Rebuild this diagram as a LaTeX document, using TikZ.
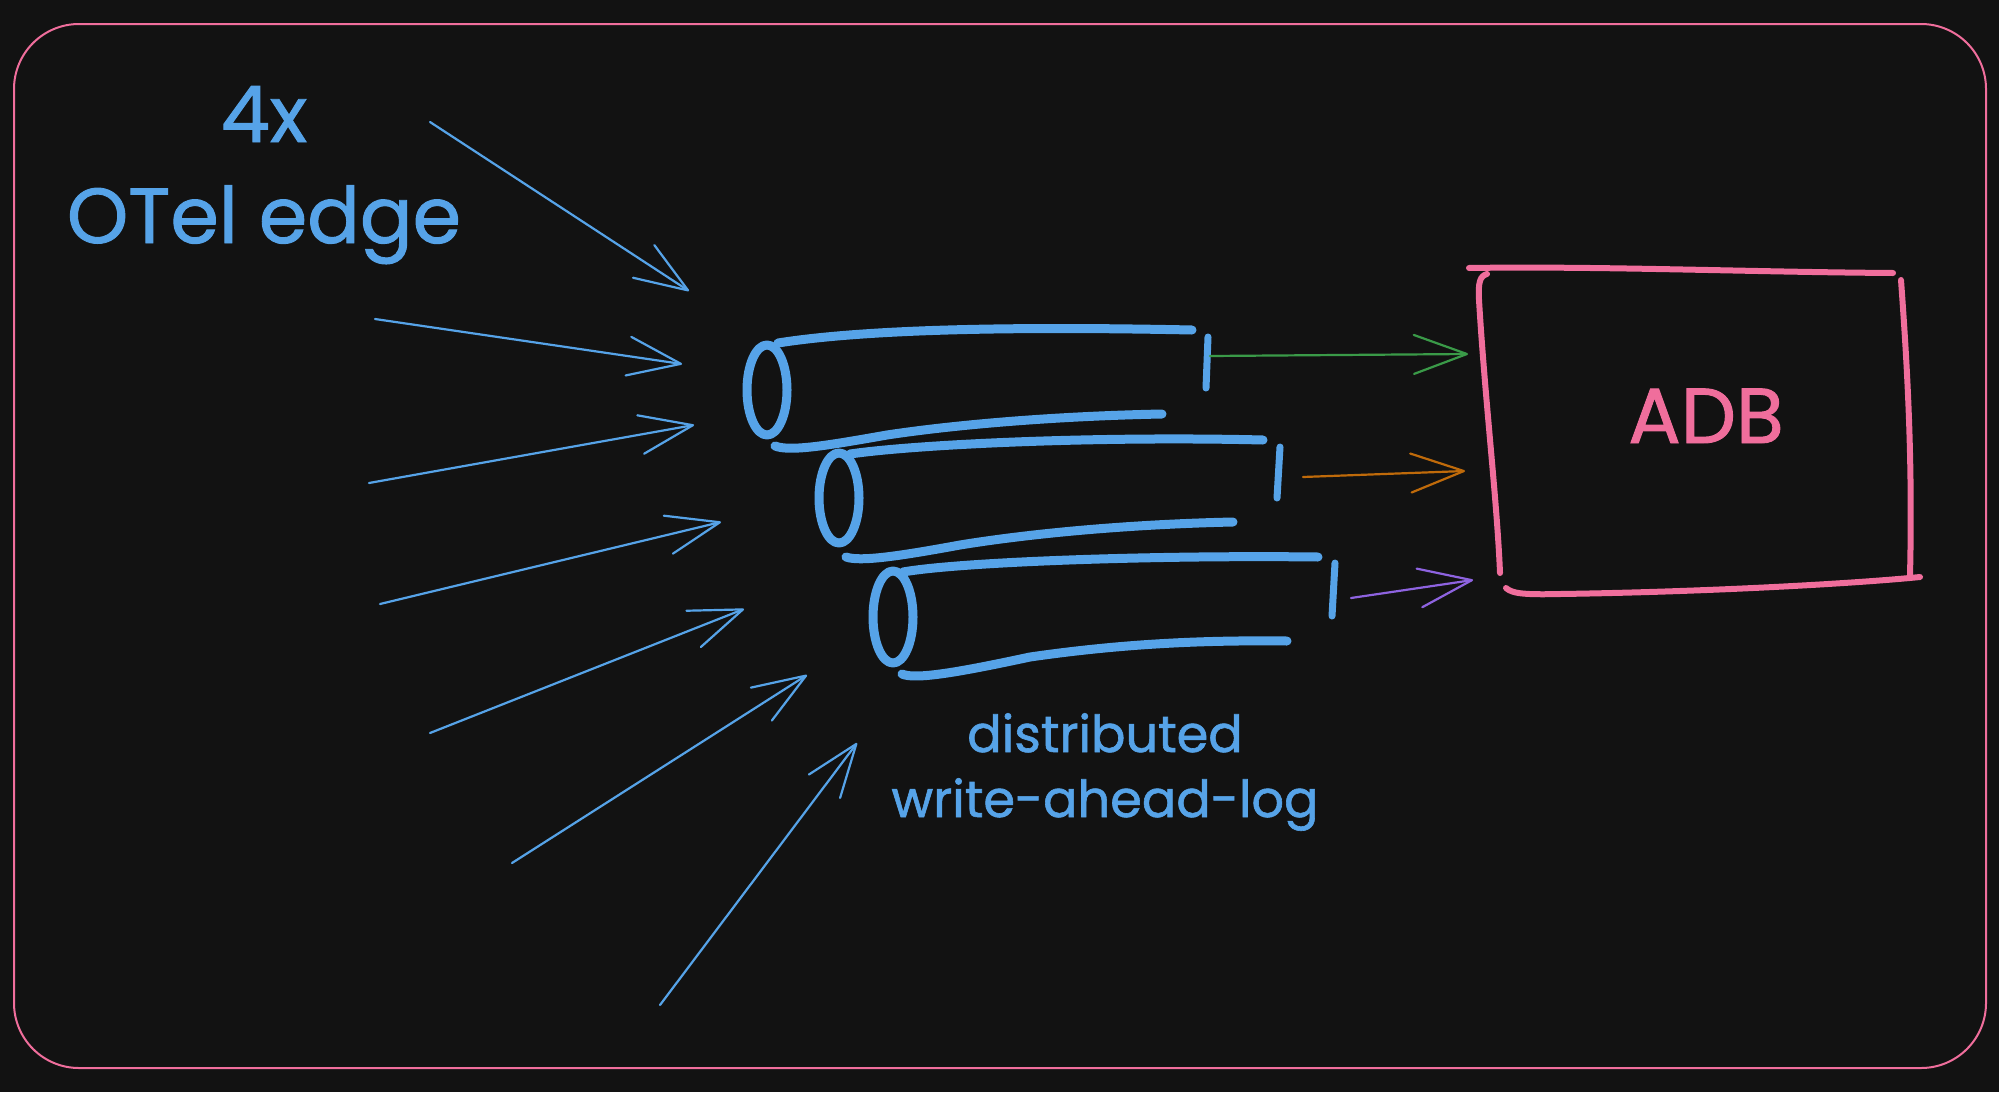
\documentclass[tikz,border=0pt]{standalone}
\usepackage{fontspec}
\setmainfont{Poppins}[FakeBold=1.2]
\usetikzlibrary{arrows.meta}
\definecolor{bgc}{HTML}{121212}
\definecolor{skyblue}{HTML}{56A3E8}
\definecolor{pinkc}{HTML}{F06E9C}
\definecolor{greenc}{HTML}{3A9A48}
\definecolor{orangec}{HTML}{BF6A0A}
\definecolor{purplec}{HTML}{8E63E0}
\begin{document}
\begin{tikzpicture}[x=1pt,y=-1pt,
  thinarrow/.style={line width=2.2pt, line cap=round, -{Straight Barb[length=53pt,width=39pt,round]}},
  tube/.style={draw=skyblue, line width=9pt, line cap=round, line join=round},
  endmark/.style={draw=skyblue, line width=7pt, line cap=round},
  boxline/.style={draw=pinkc, line width=6pt, line cap=round, line join=round},
  lbl/.style={inner sep=0pt, text=#1, align=center, anchor=base}
]
% background and bounding box
\fill[bgc] (0,0) rectangle (1999,1092);
\useasboundingbox (0,0) rectangle (1999,1092);
% outer frame
\draw[pinkc, line width=2pt, rounded corners=65pt] (14,24) rectangle (1986,1068);

% texts (anchor base = baseline of the last line)
\node[lbl=skyblue, font=\fontsize{78}{101}\selectfont] (src) at (264,243) {4x\\OTel edge};
\node[lbl=skyblue, font=\fontsize{51}{65}\selectfont] (wal) at (1105,817) {distributed\\write-ahead-log};
\node[lbl=pinkc, font=\fontsize{78}{90}\selectfont] (adb) at (1706,443) {ADB};

% incoming arrow end points
\coordinate (s1) at (430,122);  \coordinate (t1) at (689,291);
\coordinate (s2) at (375,319);  \coordinate (t2) at (682,364);
\coordinate (s3) at (369,483);  \coordinate (t3) at (694,425);
\coordinate (s4) at (380,604);  \coordinate (t4) at (721,522);
\coordinate (s5) at (430,733);  \coordinate (t5) at (744,609);
\coordinate (s6) at (512,863);  \coordinate (t6) at (807,675);
\coordinate (s7) at (660,1005); \coordinate (t7) at (857,743);
\foreach \i in {1,...,7} \draw[thinarrow, skyblue] (s\i) -- (t\i);

% cylinder 1
\draw[tube] (767,390) ellipse [x radius=20, y radius=45];
\draw[tube] (778,343) .. controls (860,330) and (1000,326) .. (1192,330);
\draw[tube] (775,446) .. controls (790,452) and (830,445) .. (887,435)
            .. controls (960,424) and (1060,416) .. (1162,414);
\draw[endmark] (1208,337) -- (1206,388);
% cylinder 2
\draw[tube] (839,498) ellipse [x radius=20, y radius=45];
\draw[tube] (850,454) .. controls (920,444) and (1100,436) .. (1263,440);
\draw[tube] (846,557) .. controls (860,562) and (900,556) .. (960,545)
            .. controls (1040,532) and (1140,524) .. (1233,522);
\draw[endmark] (1280,447) -- (1277,498);
% cylinder 3
\draw[tube] (893,617) ellipse [x radius=20, y radius=46];
\draw[tube] (903,572) .. controls (960,562) and (1150,555) .. (1318,557);
\draw[tube] (902,674) .. controls (915,680) and (960,672) .. (1030,657)
            .. controls (1120,644) and (1200,640) .. (1287,641);
\draw[endmark] (1335,563) -- (1332,616);

% ADB box (hand drawn strokes)
\draw[boxline] (1469,268) .. controls (1600,266) and (1750,272) .. (1893,273);
\draw[boxline] (1487,274) .. controls (1480,276) and (1478,282) .. (1479,300)
            .. controls (1485,400) and (1497,500) .. (1500,573);
\draw[boxline] (1901,280) .. controls (1906,350) and (1913,450) .. (1910,575);
\draw[boxline] (1506,588) .. controls (1512,593) and (1520,595) .. (1560,594)
            .. controls (1700,592) and (1850,584) .. (1920,577);

% outgoing coloured arrows
\coordinate (m1) at (1210,356); \coordinate (in1) at (1468,354);
\coordinate (m2) at (1303,477); \coordinate (in2) at (1465,471);
\coordinate (m3) at (1351,598); \coordinate (in3) at (1473,580);
\draw[thinarrow, greenc] (m1) -- (in1);
\draw[thinarrow, orangec] (m2) -- (in2);
\draw[thinarrow, purplec] (m3) -- (in3);
\end{tikzpicture}
\end{document}
